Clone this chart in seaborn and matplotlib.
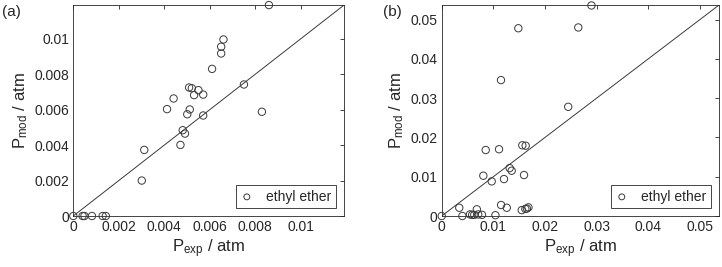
import numpy as np
import matplotlib
matplotlib.use('Agg')
import matplotlib.pyplot as plt
import seaborn as sns
from matplotlib.ticker import FuncFormatter

# panel (a) ethyl ether, P_exp vs P_mod (atm)
a_exp = [0, 0.00041, 0.00049, 0.00082, 0.00129, 0.00143, 0.00301, 0.00312,
         0.00412, 0.00441, 0.00471, 0.00481, 0.00491, 0.00501, 0.00512,
         0.00509, 0.00521, 0.00531, 0.0055, 0.00571, 0.00571, 0.0061,
         0.0065, 0.0065, 0.0066, 0.0075, 0.00829, 0.0086]
a_mod = [0, 0, 0, 0, 0, 0, 0.0020, 0.00373,
         0.00603, 0.00663, 0.00401, 0.00484, 0.00465, 0.00574, 0.00601,
         0.00725, 0.00721, 0.00682, 0.0071, 0.00685, 0.00567, 0.0083,
         0.00917, 0.00955, 0.00996, 0.00742, 0.00588, 0.0119]

# panel (b)
b_exp = [0, 0.0034, 0.0040, 0.00547, 0.0059, 0.0063, 0.0068, 0.00706,
         0.0078, 0.00806, 0.00852, 0.00968, 0.0104, 0.0111, 0.01148,
         0.0115, 0.01206, 0.0126, 0.01316, 0.01355, 0.01484, 0.01561,
         0.0155, 0.01594, 0.01626, 0.0162, 0.0165, 0.0168, 0.0245,
         0.02645, 0.0290]
b_mod = [0, 0.0021, 0, 0.0004, 0.0003, 0.0003, 0.0017, 0.0004,
         0.0003, 0.01026, 0.0168, 0.00882, 0.0002, 0.0170, 0.0346,
         0.0028, 0.0094, 0.0021, 0.0122, 0.01153, 0.0478, 0.0180,
         0.0015, 0.01043, 0.0179, 0.0018, 0.0019, 0.0022, 0.0278,
         0.0480, 0.0536]

sns.set_style('white')
plt.rcParams['font.family'] = ['Liberation Sans', 'DejaVu Sans']
plt.rcParams['mathtext.fontset'] = 'custom'
plt.rcParams['mathtext.rm'] = 'Liberation Sans'
plt.rcParams['mathtext.it'] = 'Liberation Sans'

txt = '#262626'
fig = plt.figure(figsize=(7.22, 2.67), dpi=100)
ax1 = fig.add_axes([0.1015, 0.191, 0.375, 0.790])
ax2 = fig.add_axes([0.6118, 0.191, 0.384, 0.790])

panels = [(ax1, a_exp, a_mod, 0.0119, np.arange(0, 0.0101, 0.002), '(a)', 0.003),
          (ax2, b_exp, b_mod, 0.0537, np.arange(0, 0.051, 0.01), '(b)', 0.530)]

for ax, xe, ym, lim, ticks, tag, tx in panels:
    sns.scatterplot(x=xe, y=ym, ax=ax, marker='o', s=28, facecolor='none',
                    edgecolor='#3a3a3a', linewidth=0.7, label='ethyl ether',
                    zorder=3, clip_on=False)
    ax.axline((0, 0), slope=1, color='#3a3a3a', lw=0.7, zorder=2)
    ax.set_xlim(0, lim)
    ax.set_ylim(0, lim)
    ax.set_xticks(ticks)
    ax.set_yticks(ticks)
    fmt = FuncFormatter(lambda v, p: '0' if abs(v) < 1e-12 else '{:g}'.format(round(v, 4)))
    ax.xaxis.set_major_formatter(fmt)
    ax.yaxis.set_major_formatter(fmt)
    ax.tick_params(direction='in', length=3, width=0.6, top=True, right=True,
                   labelsize=10, colors=txt, pad=3)
    for sp in ax.spines.values():
        sp.set_color(txt)
        sp.set_linewidth(0.6)
    ax.set_xlabel(r'$\mathregular{P_{exp}}$ / atm', fontsize=12, color=txt, labelpad=2)
    ax.set_ylabel(r'$\mathregular{P_{mod}}$ / atm', fontsize=12, color=txt, labelpad=3)
    leg = ax.legend(loc='lower right', fontsize=10, frameon=True, fancybox=False,
                    framealpha=1, edgecolor=txt, handlelength=1.0, handletextpad=0.9,
                    borderpad=0.3, borderaxespad=0.6, markerscale=0.8)
    leg.get_frame().set_linewidth(0.6)
    for t in leg.get_texts():
        t.set_color(txt)
    fig.text(tx, 0.955, tag, fontsize=11, color=txt, ha='left', va='center')

fig.savefig('out.png', dpi=100)
